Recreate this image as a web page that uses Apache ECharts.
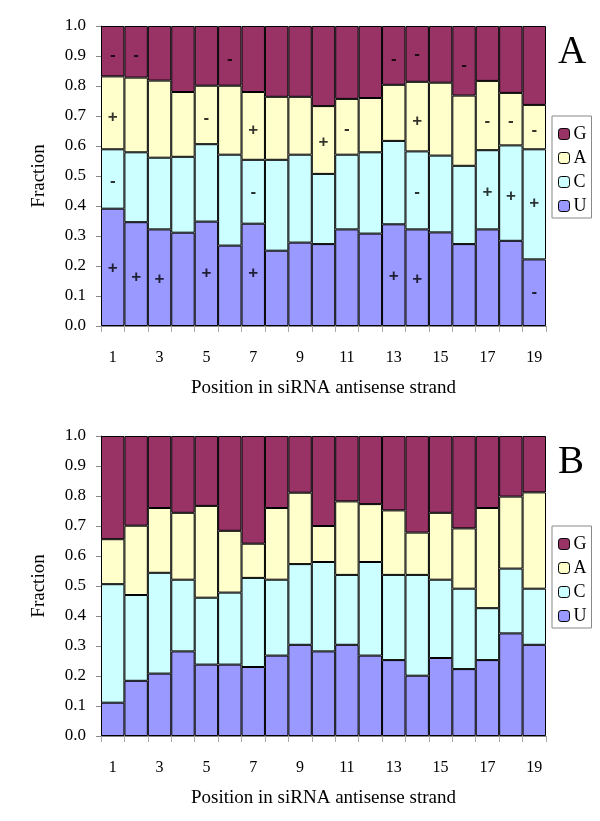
<!DOCTYPE html>
<html>
<head>
<meta charset="utf-8">
<script src="https://cdn.jsdelivr.net/npm/echarts@6/dist/echarts.min.js"></script>
<style>html,body{margin:0;padding:0;background:#fff}#c{width:600px;height:821px}</style>
</head>
<body>
<div id="c"></div>
<script>
const categories = ['1','2','3','4','5','6','7','8','9','10','11','12','13','14','15','16','17','18','19'];
const seriesNames = ['U','C','A','G'];
const colors = {U:'#9999FF', C:'#CCFFFF', A:'#FFFFCC', G:'#993366'};

// Chart A segment fractions
const A_U = [0.391,0.346,0.322,0.311,0.348,0.268,0.341,0.251,0.278,0.273,0.322,0.308,0.339,0.322,0.312,0.273,0.322,0.284,0.222];
const A_C = [0.198,0.233,0.239,0.253,0.258,0.303,0.213,0.303,0.293,0.234,0.249,0.271,0.278,0.260,0.256,0.261,0.264,0.318,0.367];
const A_A = [0.243,0.249,0.257,0.216,0.195,0.230,0.226,0.210,0.193,0.226,0.186,0.181,0.187,0.232,0.243,0.234,0.231,0.175,0.148];
const A_G = [0.168,0.172,0.182,0.220,0.199,0.199,0.220,0.236,0.236,0.267,0.243,0.240,0.196,0.186,0.189,0.232,0.183,0.223,0.263];

// Chart B segment fractions
const B_U = [0.111,0.184,0.208,0.282,0.238,0.238,0.230,0.268,0.304,0.282,0.304,0.268,0.253,0.201,0.260,0.223,0.253,0.342,0.304];
const B_C = [0.395,0.286,0.336,0.239,0.223,0.240,0.297,0.253,0.269,0.298,0.233,0.312,0.284,0.336,0.261,0.268,0.173,0.216,0.187];
const B_A = [0.150,0.231,0.216,0.223,0.306,0.206,0.114,0.239,0.238,0.120,0.245,0.193,0.215,0.141,0.223,0.201,0.334,0.240,0.321];
const B_G = [0.344,0.299,0.240,0.256,0.233,0.316,0.359,0.240,0.189,0.300,0.218,0.227,0.248,0.322,0.256,0.308,0.240,0.202,0.188];

// Chart A significance marks: [position index, fraction, mark]
const marksA = [
  [0,0.902,'-'],[0,0.696,'+'],[0,0.483,'-'],[0,0.191,'+'],
  [1,0.902,'-'],[1,0.163,'+'],
  [2,0.156,'+'],
  [4,0.693,'-'],[4,0.174,'+'],
  [5,0.888,'-'],
  [6,0.652,'+'],[6,0.444,'-'],[6,0.174,'+'],
  [9,0.613,'+'],
  [10,0.654,'-'],
  [12,0.888,'-'],[12,0.166,'+'],
  [13,0.904,'-'],[13,0.682,'+'],[13,0.446,'-'],[13,0.156,'+'],
  [15,0.869,'-'],
  [16,0.682,'-'],[16,0.447,'+'],
  [17,0.682,'-'],[17,0.432,'+'],
  [18,0.652,'-'],[18,0.408,'+'],[18,0.111,'-']
];

const panelLabels = ['A','B'];
const legendOrder = ['G','A','C','U'];
const yTickLabels = ['0.0','0.1','0.2','0.3','0.4','0.5','0.6','0.7','0.8','0.9','1.0'];

const FONT = 'Liberation Serif';
const panels = [
  {top:26, data:{U:A_U,C:A_C,A:A_A,G:A_G}},
  {top:436, data:{U:B_U,C:B_C,A:B_A,G:B_G}}
];

const grids = [], xAxes = [], yAxes = [], series = [], legends = [], titles = [];
panels.forEach((p, i) => {
  grids.push({left:101, width:445, top:p.top, height:300});
  xAxes.push({
    type:'category', gridIndex:i, data:categories, boundaryGap:true,
    name:'Position in siRNA antisense strand', nameLocation:'middle', nameGap:53,
    nameTextStyle:{fontFamily:FONT, fontSize:19, color:'#000'},
    axisLine:{lineStyle:{color:'#888', width:1}},
    axisTick:{show:true, length:6, alignWithLabel:false, interval:0, lineStyle:{color:'#aaa'}},
    axisLabel:{interval:1, margin:24, fontFamily:FONT, fontSize:16, color:'#000'}
  });
  yAxes.push({
    type:'value', gridIndex:i, min:0, max:1, interval:0.1,
    name:'Fraction', nameLocation:'middle', nameGap:52, nameRotate:90,
    nameTextStyle:{fontFamily:FONT, fontSize:19, color:'#000'},
    axisLine:{show:true, lineStyle:{color:'#666', width:1}},
    axisTick:{show:true, length:5, lineStyle:{color:'#888'}},
    splitLine:{show:false},
    axisLabel:{margin:15, fontFamily:FONT, fontSize:17, color:'#000',
      formatter:(v)=>yTickLabels[Math.round(v*10)]}
  });
  seriesNames.forEach(n => {
    series.push({
      name:n, type:'bar', stack:'s'+i, xAxisIndex:i, yAxisIndex:i,
      data:p.data[n], barCategoryGap:'0%', barGap:'0%',
      itemStyle:{color:colors[n], borderColor:'#000', borderWidth:1},
      emphasis:{disabled:true}, animation:false
    });
  });
  legends.push({
    data:legendOrder, orient:'vertical', left:552, top:p.top+90,
    itemWidth:11, itemHeight:11, itemGap:6, padding:[9,5,3,6],
    borderColor:'#888', borderWidth:1,
    itemStyle:{borderColor:'#000', borderWidth:1},
    textStyle:{fontFamily:FONT, fontSize:18, color:'#000', padding:[0,0,0,-1]},
    selectedMode:false
  });
  titles.push({text:panelLabels[i], left:558, top:p.top+7, padding:0,
    textStyle:{fontFamily:FONT, fontSize:39, fontWeight:'normal', color:'#000'}});
});

series.push({
  type:'scatter', xAxisIndex:0, yAxisIndex:0, symbolSize:1, symbol:'rect',
  itemStyle:{color:'rgba(0,0,0,0)'}, silent:true, animation:false,
  data:marksA.map(m=>({value:[m[0], m[1]], mark:m[2]})),
  label:{show:true, position:'inside', fontFamily:'Liberation Sans', fontWeight:'bold', fontSize:17, color:'#000',
    formatter:(p)=>p.data.mark}
});

const chart = echarts.init(document.getElementById('c'), null, {renderer:'canvas'});
chart.setOption({
  animation:false,
  title:titles, grid:grids, xAxis:xAxes, yAxis:yAxes, legend:legends, series:series
});
</script>
</body>
</html>
